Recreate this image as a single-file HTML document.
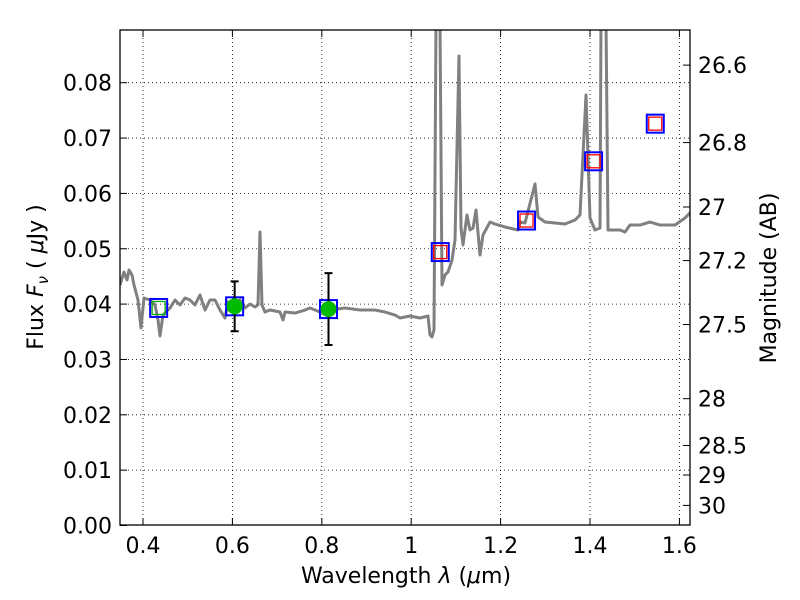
<!DOCTYPE html>
<html><head><meta charset="utf-8"><style>
body{margin:0;background:#fff}
svg{display:block;font-family:"DejaVu Sans","Liberation Sans",sans-serif}
</style></head><body>
<svg id="chart" width="800" height="600" viewBox="0 0 800 600">
<defs><clipPath id="clip"><rect x="120" y="30" width="570" height="495"/></clipPath></defs>
<g id="grid"></g>
<g id="series" clip-path="url(#clip)"></g>
<rect x="120" y="30" width="570" height="495" fill="none" stroke="#000" stroke-width="1.3"/>
<g id="axes"></g>
<text x="406" y="583" font-size="22" text-anchor="middle">Wavelength  <tspan font-style="italic">λ</tspan> (<tspan font-style="italic">μ</tspan>m)</text>
<text transform="translate(43,277) rotate(-90)" font-size="22" text-anchor="middle">Flux  <tspan font-style="italic">F</tspan><tspan font-style="italic" font-size="15" dy="5">ν</tspan><tspan dy="-5">  ( </tspan><tspan font-style="italic">μ</tspan>Jy )</text>
<text transform="translate(776,278) rotate(-90)" font-size="22" text-anchor="middle">Magnitude (AB)</text>
</svg>
<script>
const xTicks=[0.4,0.6,0.8,1.0,1.2,1.4,1.6];
const xTickLabels=["0.4","0.6","0.8","1","1.2","1.4","1.6"];
const yTicks=[0,0.01,0.02,0.03,0.04,0.05,0.06,0.07,0.08];
const yTickLabels=["0.00","0.01","0.02","0.03","0.04","0.05","0.06","0.07","0.08"];
const magTicks=[26.6,26.8,27,27.2,27.5,28,28.5,29,30];
const magTickLabels=["26.6","26.8","27","27.2","27.5","28","28.5","29","30"];
// spectrum (pixel-read then converted): wavelength (um) and flux (uJy)
const specPx=[[120,285],[124,272],[127,280],[129,270],[132,275],[134,285],[138,300],[141,328],[144,298],[150,300],[155,305],[158,320],[160,336],[163,315],[170,308],[175,300],[180,305],[185,298],[190,300],[195,305],[200,295],[205,310],[210,300],[215,300],[220,310],[225,318],[228,302],[232,305],[240,300],[245,308],[250,304],[255,307],[258,305],[260,232],[262,305],[265,312],[270,310],[280,312],[283,320],[285,312],[295,313],[305,310],[310,308],[320,312],[330,310],[345,308],[360,310],[375,310],[385,312],[395,315],[400,318],[410,316],[420,318],[428,316],[430,335],[432,337],[434,330],[436,20],[440,20],[442,285],[445,275],[448,272],[452,260],[455,240],[459,56],[461,228],[463,245],[467,215],[470,230],[473,228],[476,210],[480,255],[483,235],[490,222],[495,224],[505,227],[518,230],[520,222],[525,223],[535,184],[538,217],[545,222],[555,223],[565,224],[575,220],[580,215],[586,95],[590,218],[595,230],[600,228],[601,20],[606,20],[608,230],[620,230],[625,232],[630,225],[640,225],[650,222],[660,225],[675,225],[685,218],[692,211]];
const specWave=specPx.map(p=>+(0.4+(p[0]-143)/447).toFixed(4));
const specFlux=specPx.map(p=>+((525.5-p[1])/5535).toFixed(5));
const photWave=[0.435,0.605,0.815,1.065,1.258,1.408,1.546];
const photFlux=[0.0393,0.0396,0.0391,0.0494,0.0551,0.0658,0.0726];
const innerColor=["#0a0","none","none","red","red","red","red"];
const groundWave=[0.605,0.815];
const groundFlux=[0.0396,0.0391];
const groundErr=[0.0045,0.0065];

const X0=143,XS=447,Y0=525.5,YS=5535;
const xs=v=>X0+(v-0.4)*XS, ys=v=>Y0-v*YS;
const magY=m=>ys(Math.pow(10,(23.9-m)/2.5));
const NS="http://www.w3.org/2000/svg";
function mk(tag,attrs,parent,txt){const e=document.createElementNS(NS,tag);for(const k in attrs)e.setAttribute(k,attrs[k]);if(txt!==undefined)e.textContent=txt;parent.appendChild(e);return e;}
const grid=document.getElementById('grid'),axes=document.getElementById('axes'),ser=document.getElementById('series');
xTicks.forEach((t,i)=>{const x=xs(t);
 let g=mk('line',{x1:x,x2:x,y1:30,y2:525,stroke:'#000','stroke-width':0.8,'stroke-dasharray':'1,3'},grid);
 
 mk('line',{x1:x,x2:x,y1:525,y2:518,stroke:'#000'},axes);mk('line',{x1:x,x2:x,y1:30,y2:37,stroke:'#000'},axes);
 let l=mk('text',{x:x,y:553,'font-size':22,'text-anchor':'middle'},axes,xTickLabels[i]);
 });
yTicks.forEach((t,i)=>{const y=ys(t);
 if(t>0){let g=mk('line',{x1:120,x2:690,y1:y,y2:y,stroke:'#000','stroke-width':0.8,'stroke-dasharray':'1,3'},grid);
 }
 mk('line',{x1:120,x2:127,y1:y,y2:y,stroke:'#000'},axes);
 let l=mk('text',{x:112,y:y+8,'font-size':22,'text-anchor':'end'},axes,yTickLabels[i]);
 });
magTicks.forEach((m,i)=>{const y=magY(m);
 mk('line',{x1:690,x2:683,y1:y,y2:y,stroke:'#000'},axes);
 let l=mk('text',{x:698,y:y+8,'font-size':22},axes,magTickLabels[i]);
 });
const sp=mk('polyline',{points:specWave.map((w,i)=>xs(w)+','+ys(specFlux[i])).join(' '),fill:'none',stroke:'#808080','stroke-width':3,'stroke-linejoin':'round'},ser);

photWave.forEach((w,i)=>{const x=xs(w),y=ys(photFlux[i]);
 if(innerColor[i]!=='none'){let r=mk('rect',{x:x-6.5,y:y-6.5,width:13,height:13,fill:'none',stroke:innerColor[i],'stroke-width':1.3},ser);
 }
 let b=mk('rect',{x:x-8.5,y:y-9,width:17,height:18,fill:'none',stroke:'#00f','stroke-width':2},ser);
 });
groundWave.forEach((w,i)=>{const x=xs(w),y1=ys(groundFlux[i]+groundErr[i]),y2=ys(groundFlux[i]-groundErr[i]);
 let e=mk('path',{d:`M${x},${y1}V${y2}M${x-4},${y1}H${x+4}M${x-4},${y2}H${x+4}`,stroke:'#000','stroke-width':2,fill:'none'},ser);
 
 let c=mk('circle',{cx:x,cy:ys(groundFlux[i]),r:8,fill:'#0b0'},ser);
 });
</script>
</body></html>
